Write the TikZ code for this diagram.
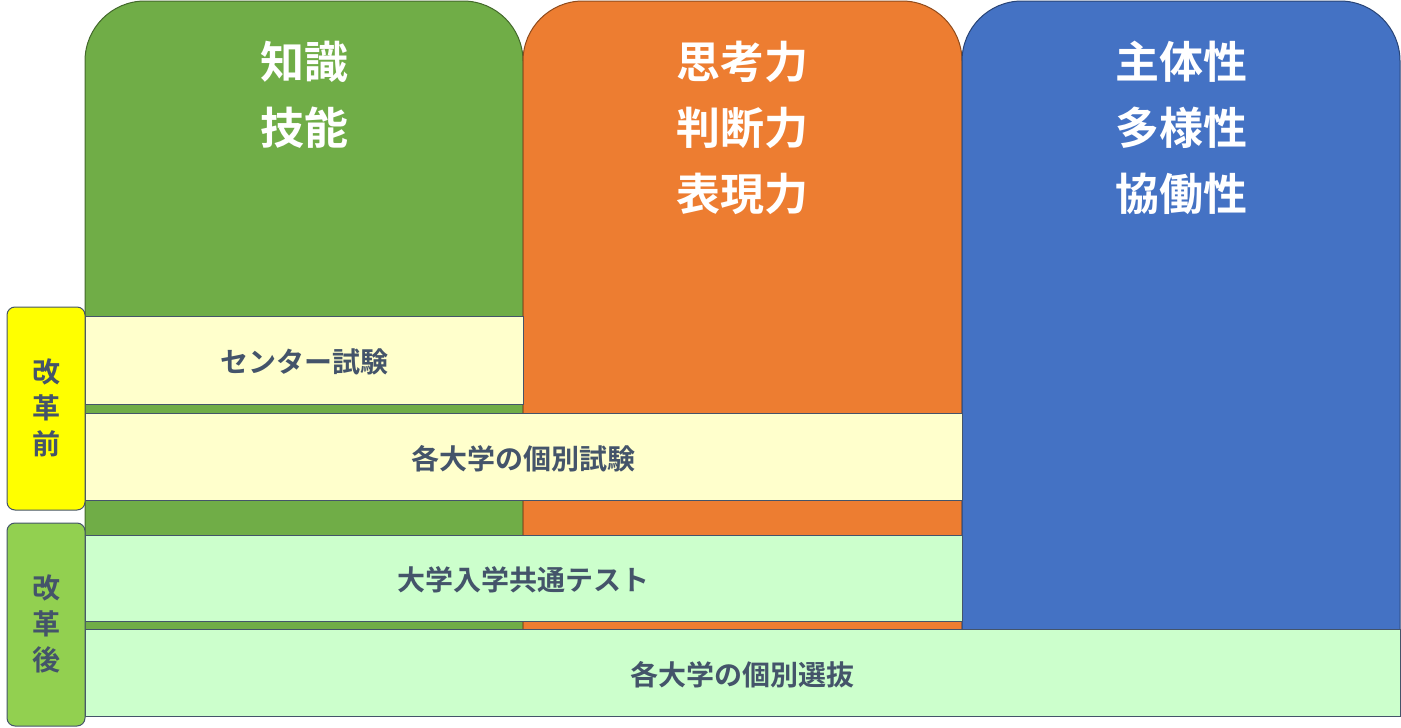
\documentclass[tikz,border=0pt]{standalone}
\usepackage{fontspec}
\newfontfamily\jp{Noto Sans CJK JP}[BoldFont={Noto Sans CJK JP Bold}]
\definecolor{cg}{HTML}{70AD47}\definecolor{co}{HTML}{ED7D31}\definecolor{cb}{HTML}{4472C4}
\definecolor{ly}{HTML}{FFFFCC}\definecolor{lg}{HTML}{CCFFCC}\definecolor{tx}{HTML}{44546A}
\definecolor{yy}{HTML}{FFFF00}\definecolor{gg}{HTML}{92D050}
\tikzset{col/.style={draw=#1!60!black,fill=#1,line width=1pt},
 ttl/.style={text=white,font=\jp\bfseries\fontsize{44}{66}\selectfont,align=center,anchor=north},
 bx/.style={draw=tx,line width=1pt,fill=#1},
 bt/.style={text=tx,font=\jp\bfseries\fontsize{28}{30}\selectfont},
 side/.style={draw=tx,line width=1pt,fill=#1,rounded corners=8pt},
 st/.style={text=tx,font=\jp\bfseries\fontsize{28}{36}\selectfont,align=center}}
\begin{document}
\begin{tikzpicture}[x=1pt,y=-1pt]
\useasboundingbox (0,0) rectangle (1401,728);
\foreach \a/\b/\c in {85/523/cg,523/962/co,962/1400/cb}{
 \draw[col=\c] (\a,630) [rounded corners=60pt]-- (\a,1) -- (\b,1) [sharp corners]-- (\b,630) -- cycle;}
\node[ttl] (t1) at (304,38) {知識\\技能};
\node[ttl] (t2) at (742,38) {思考力\\判断力\\表現力};
\node[ttl] (t3) at (1181,38) {主体性\\多様性\\協働性};
\draw[bx=ly] (85,316) rectangle (523,404); \node[bt] (b1) at (304,362) {センター試験};
\draw[bx=ly] (85,413) rectangle (962,500); \node[bt] (b2) at (523,459) {各大学の個別試験};
\draw[bx=lg] (85,535) rectangle (962,621); \node[bt] (b3) at (523,580) {大学入学共通テスト};
\draw[bx=lg] (85,629) rectangle (1400,716); \node[bt] (b4) at (742,675) {各大学の個別選抜};
\draw[side=yy] (7,307) rectangle (85,510); \node[st] (s1) at (46,408) {改\\革\\前};
\draw[side=gg] (7,523) rectangle (85,726); \node[st] (s2) at (46,624) {改\\革\\後};
\end{tikzpicture}
\end{document}
